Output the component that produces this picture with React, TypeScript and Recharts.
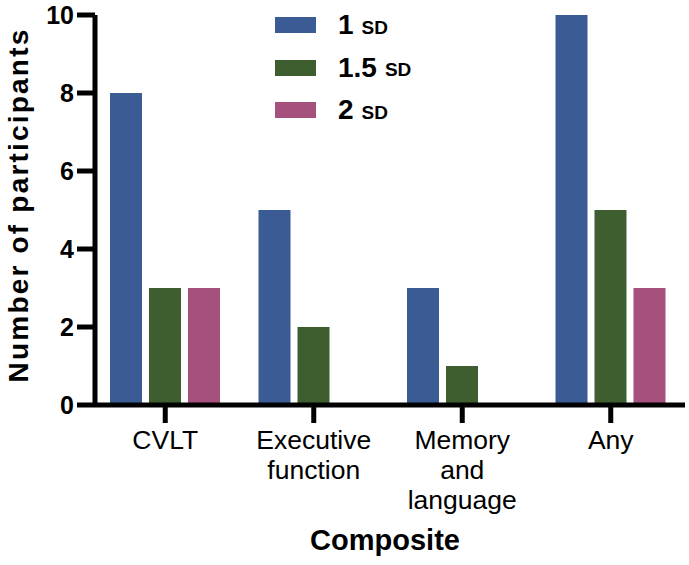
import { BarChart, Bar, XAxis, YAxis, Legend } from "recharts";

// categories on the x axis, and how each label breaks into lines
const categories = ["CVLT", "Executive function", "Memory and language", "Any"];
const tickLines: Record<string, string[]> = {
  "CVLT": ["CVLT"],
  "Executive function": ["Executive", "function"],
  "Memory and language": ["Memory", "and", "language"],
  "Any": ["Any"],
};

// number of participants per threshold
const sd1 = [8, 5, 3, 10];
const sd15 = [3, 2, 1, 5];
const sd2 = [3, 0, 0, 3];

const yTicks = [0, 2, 4, 6, 8, 10];

const series = [
  { key: "sd1", big: "1", color: "#3b5b94" },
  { key: "sd15", big: "1.5", color: "#3e5e2f" },
  { key: "sd2", big: "2", color: "#a6507e" },
];

const data = categories.map((name, i) => ({
  name,
  sd1: sd1[i],
  sd15: sd15[i],
  sd2: sd2[i],
}));

const font = "'Liberation Sans', Arial, Helvetica, sans-serif";

const CategoryTick = (props: any) => {
  const { x, y, payload } = props;
  const lines = tickLines[payload.value] || [payload.value];
  return (
    <g>
      {lines.map((line, i) => (
        <text
          key={i}
          x={x}
          y={y + 22 + i * 30}
          textAnchor="middle"
          fontSize={26.5}
          fontFamily={font}
          fill="#000"
        >
          {line}
        </text>
      ))}
    </g>
  );
};

const YLabel = () => (
  <text
    transform="translate(28, 205) rotate(-90)"
    textAnchor="middle"
    fontSize={28}
    fontWeight="bold"
    fontFamily={font}
    letterSpacing={2.2}
    fill="#000"
  >
    Number of participants
  </text>
);

const LegendBox = () => (
  <div style={{ fontFamily: font, color: "#000" }}>
    {series.map((s) => (
      <div
        key={s.key}
        style={{ display: "flex", alignItems: "center", height: 42.5 }}
      >
        <div style={{ width: 41, height: 16, background: s.color }} />
        <span style={{ marginLeft: 22, fontSize: 28, fontWeight: "bold" }}>
          {s.big}
        </span>
        <span style={{ marginLeft: 8, fontSize: 19, fontWeight: "bold", marginTop: 5 }}>
          SD
        </span>
      </div>
    ))}
  </div>
);

export default function App() {
  return (
    <div style={{ position: "absolute", left: 0, top: 0, background: "#fff" }}>
      <BarChart
        width={689}
        height={565}
        data={data}
        margin={{ top: 15, right: 4, bottom: 0, left: 0 }}
        barSize={32}
        barGap={7}
      >
        <Legend
          layout="vertical"
          align="center"
          verticalAlign="middle"
          content={<LegendBox />}
          wrapperStyle={{ top: 4, left: 275, width: 200, height: 130 }}
        />
        <XAxis
          dataKey="name"
          height={160}
          padding={{ left: -4, right: 0 }}
          tickSize={18}
          tickMargin={4}
          axisLine={{ stroke: "#000", strokeWidth: 5 }}
          tickLine={{ stroke: "#000", strokeWidth: 5 }}
          tick={<CategoryTick />}
          interval={0}
          label={{
            value: "Composite",
            position: "insideBottom",
            offset: 15,
            dx: -5,
            style: { fontSize: 29, fontWeight: "bold", fontFamily: font, fill: "#000" },
          }}
        />
        <YAxis
          width={95}
          domain={[0, 10]}
          ticks={yTicks}
          interval={0}
          tickSize={18}
          tickMargin={3}
          axisLine={{ stroke: "#000", strokeWidth: 5 }}
          tickLine={{ stroke: "#000", strokeWidth: 5 }}
          tick={{ fontSize: 25, fontWeight: "bold", fontFamily: font, fill: "#000" }}
          label={<YLabel />}
        />
        {series.map((s) => (
          <Bar key={s.key} dataKey={s.key} fill={s.color} isAnimationActive={false} />
        ))}
      </BarChart>
    </div>
  );
}
